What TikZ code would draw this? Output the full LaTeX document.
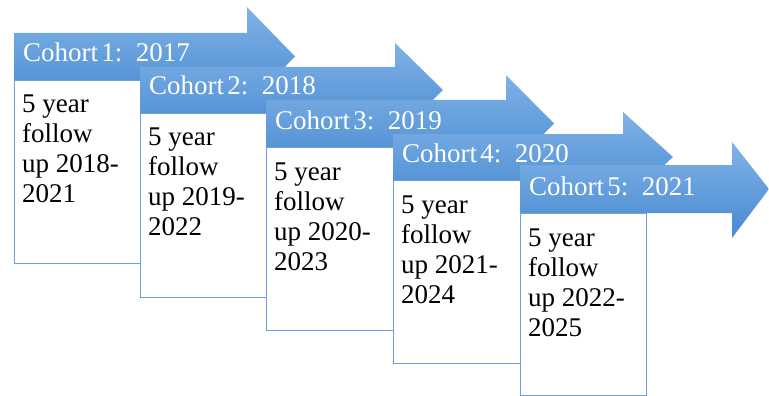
\documentclass[tikz,border=0pt]{standalone}
\usepackage{fontspec}
\setmainfont{Liberation Serif}
\definecolor{arrtop}{RGB}{128,178,230}
\definecolor{arrbot}{RGB}{72,138,210}
\definecolor{boxline}{RGB}{108,160,216}
\tikzset{
  cohortarrow/.style={top color=arrtop, bottom color=arrbot, draw=none},
  cohortlabel/.style={anchor=base west, inner sep=0pt, text=white, font=\fontsize{27}{30}\selectfont},
  followbox/.style={draw=boxline, line width=1.4pt, fill=white, anchor=north west, inner sep=0pt},
  followtext/.style={anchor=base west, inner sep=0pt, text=black, font=\fontsize{27}{30}\selectfont}
}
\begin{document}
\begin{tikzpicture}[x=1pt,y=-1pt]
\useasboundingbox (0,0) rectangle (769,396);
\foreach \i/\xl/\yt/\yb/\xh/\xt/\yu/\yd/\xr/\yo/\yr/\fa/\fb in {
  1/14/33/80/247/295/7/106/140/263/2017/2018/2021,
  2/140/67/113/395/443/43/137/266/297/2018/2019/2022,
  3/266/100/147/506/554/75/172/393/330/2019/2020/2023,
  4/393/134/180/623/673/112/203/520/363/2020/2021/2024,
  5/520/165/213/732/769/142/238/646/395/2021/2022/2025}{
  \pgfmathsetmacro{\ym}{(\yt+\yb)/2}
  \shade[cohortarrow] (\xl,\yt) -- (\xh,\yt) -- (\xh,\yu) -- (\xt,\ym) -- (\xh,\yd) -- (\xh,\yb) -- (\xl,\yb) -- cycle;
  \node[cohortlabel] (c\i) at (\xl+9,\yb-18) {Cohort\kern0.12em\i:\kern0.5em\yr};
  \pgfmathsetmacro{\bw}{\xr-\xl}
  \pgfmathsetmacro{\bh}{\yo-\yb}
  \node[followbox, minimum width=\bw pt, minimum height=\bh pt] (b\i) at (\xl,\yb) {};
  \node[followtext] (t\i) at ([xshift=8pt,yshift=-33pt]b\i.north west) {\vtop{\hbox{5 year}\hbox{follow}\hbox{up \fa-}\hbox{\fb}}};
}
\end{tikzpicture}
\end{document}
